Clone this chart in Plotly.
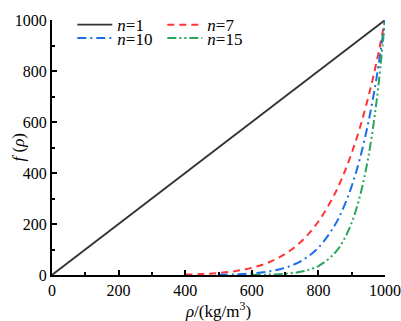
import plotly.graph_objects as go

# Data
rho_n1 = [0, 1000]
f_n1 = [0, 1000]

rho_n7 = [400, 450, 500, 550, 600, 650, 700, 750, 800, 850, 875, 900, 925, 950, 975, 1000]
f_n7 = [1.6, 3.7, 7.8, 15.2, 28.0, 49.0, 82.4, 133.5, 209.7, 320.6, 392.7, 478.3, 579.4, 698.3, 837.6, 1000]

rho_n10 = [500, 550, 600, 650, 700, 750, 800, 850, 875, 900, 925, 950, 975, 1000]
f_n10 = [1.0, 2.5, 6.0, 13.5, 28.2, 56.3, 107.4, 196.9, 263.1, 348.7, 458.6, 598.7, 776.3, 1000]

rho_n15 = [600, 650, 700, 750, 800, 850, 875, 900, 925, 950, 975, 1000]
f_n15 = [0.5, 1.6, 4.7, 13.4, 35.2, 87.4, 134.9, 205.9, 310.5, 463.3, 684.0, 1000]

x_ticks = [0, 200, 400, 600, 800, 1000]
y_ticks = [0, 200, 400, 600, 800, 1000]

FONT = "Times New Roman, Liberation Serif, serif"

fig = go.Figure()
fig.add_trace(go.Scatter(x=rho_n1, y=f_n1, mode="lines", name="<i>n</i>=1",
                         line=dict(color="#333333", width=1.8, dash="solid"),
                         legend="legend", cliponaxis=False))
fig.add_trace(go.Scatter(x=rho_n7, y=f_n7, mode="lines", name="<i>n</i>=7",
                         line=dict(color="#ff3333", width=2, dash="7px,5px", shape="spline"),
                         legend="legend", cliponaxis=False))
fig.add_trace(go.Scatter(x=rho_n10, y=f_n10, mode="lines", name="<i>n</i>=10",
                         line=dict(color="#1a6fe8", width=2, dash="9px,4px,2px,4px", shape="spline"),
                         legend="legend2", cliponaxis=False))
fig.add_trace(go.Scatter(x=rho_n15, y=f_n15, mode="lines", name="<i>n</i>=15",
                         line=dict(color="#2aa55a", width=2, dash="9px,3px,2px,3px,2px,3px", shape="spline"),
                         legend="legend2", cliponaxis=False))

axis_common = dict(
    showline=True, linecolor="black", linewidth=2,
    ticks="inside", ticklen=5, tickwidth=2, tickcolor="black",
    showgrid=False, zeroline=False, mirror=False, automargin=False,
    tickfont=dict(family=FONT, size=16, color="black"),
    minor=dict(ticks="inside", ticklen=3, tickwidth=1.5, tickcolor="black", dtick=100),
)

fig.update_xaxes(range=[0, 1000], tickvals=x_ticks, ticktext=[str(v) for v in x_ticks],
                 title=dict(text="<i>ρ</i>/(kg/m<sup>3</sup>)", font=dict(family=FONT, size=17, color="black"), standoff=2),
                 **axis_common)
fig.update_yaxes(range=[0, 1000], tickvals=y_ticks, ticktext=[str(v) for v in y_ticks],
                 **axis_common)

# y-axis title placed as an annotation so it can sit close to the tick labels
fig.add_annotation(text="<i>f</i> (<i>ρ</i>)", xref="paper", yref="paper", x=0, y=0.5,
                   xanchor="center", yanchor="middle", xshift=-34, textangle=-90,
                   showarrow=False, font=dict(family=FONT, size=17, color="black"))

legend_common = dict(orientation="h", xanchor="left", yanchor="middle",
                     bgcolor="rgba(0,0,0,0)", entrywidth=40, entrywidthmode="pixels",
                     font=dict(family=FONT, size=17, color="black"),
                     itemwidth=35, tracegroupgap=0)
fig.update_layout(
    width=401, height=321,
    margin=dict(l=52, r=16, t=7, b=46),
    paper_bgcolor="white", plot_bgcolor="white",
    font=dict(family=FONT, color="black"),
    showlegend=True,
    legend=dict(x=0.061, y=0.98, **legend_common),
    legend2=dict(x=0.061, y=0.928, **legend_common),
)

fig.write_html("out.html", config={"displayModeBar": False},
               post_script="document.body.style.margin='0';")
